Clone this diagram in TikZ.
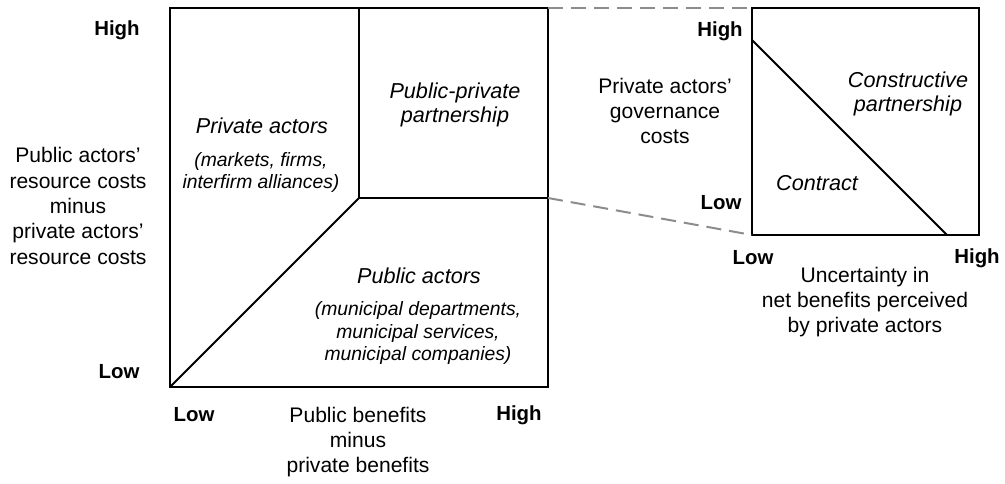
\documentclass[tikz,border=0pt]{standalone}
\usepackage{fontspec}
\setmainfont{Liberation Sans}
\begin{document}
\begin{tikzpicture}[x=0.75pt,y=-0.75pt,
  frame/.style={line width=1.5pt, line join=miter},
  zoomline/.style={draw=black!45, line width=1.5pt, dash pattern=on 11.25pt off 6pt},
  lbl/.style={font=\fontsize{15.8}{19}\selectfont, align=center, inner sep=0pt},
  tickl/.style={font=\bfseries\fontsize{15.3}{18}\selectfont, inner sep=0pt},
  region/.style={font=\itshape\fontsize{16.2}{18}\selectfont, align=center, inner sep=0pt},
  detail/.style={font=\itshape\fontsize{14.5}{16.5}\selectfont, align=center, inner sep=0pt}]
  \useasboundingbox (0,0) rectangle (1005,484);

  % main governance matrix
  \coordinate (m-sw) at (170,387);
  \coordinate (m-ne) at (548,8);
  \coordinate (m-s) at (548,198);
  \coordinate (m-c) at (359,198);
  \coordinate (m-n) at (359,8);
  \draw[frame] (m-sw) rectangle (m-ne);
  \draw[frame] (m-n) -- (m-c) -- (m-s);
  \draw[frame] (m-sw) -- (m-c);

  % detail matrix for the partnership cell
  \coordinate (d-sw) at (752,235);
  \coordinate (d-ne) at (979,8);
  \coordinate (d-nw) at (752,8);
  \coordinate (d-a) at (752,40);
  \coordinate (d-b) at (947,235);
  \draw[frame] (d-sw) rectangle (d-ne);
  \draw[frame] (d-a) -- (d-b);

  % zoom guides
  \draw[zoomline] (m-ne) -- (d-nw);
  \draw[zoomline] (m-s) -- (d-sw);

  % main matrix labels
  \node[tickl] (mhi) at (117,30) {High};
  \node[tickl] (mlo) at (119,372) {Low};
  \node[lbl] (my) at (78,206) {Public actors’\\resource costs\\minus\\private actors’\\resource costs};
  \node[tickl] (mxlo) at (194,415) {Low};
  \node[tickl] (mxhi) at (519,415) {High};
  \node[lbl] (mx) at (358,442) {Public benefits\\minus\\private benefits};

  \node[region] (priv) at (262,126) {Private actors};
  \node[detail] (privd) at (261,172) {(markets, firms,\\interfirm alliances)};
  \node[region] (ppp) at (455,105) {Public-private\\partnership};
  \node[region] (pub) at (419,276) {Public actors};
  \node[detail] (pubd) at (418,333) {(municipal departments,\\municipal services,\\municipal companies)};

  % detail matrix labels
  \node[tickl] (dhi) at (720,31) {High};
  \node[tickl] (dlo) at (721,203) {Low};
  \node[lbl] (dy) at (665,111) {Private actors’\\governance\\costs};
  \node[tickl] (dxlo) at (753,258) {Low};
  \node[tickl] (dxhi) at (977,258) {High};
  \node[lbl] (dx) at (865,302) {Uncertainty in\\net benefits perceived\\by private actors};
  \node[region] (cons) at (908,94) {Constructive\\partnership};
  \node[region] (contr) at (817,183) {Contract};
\end{tikzpicture}
\end{document}
